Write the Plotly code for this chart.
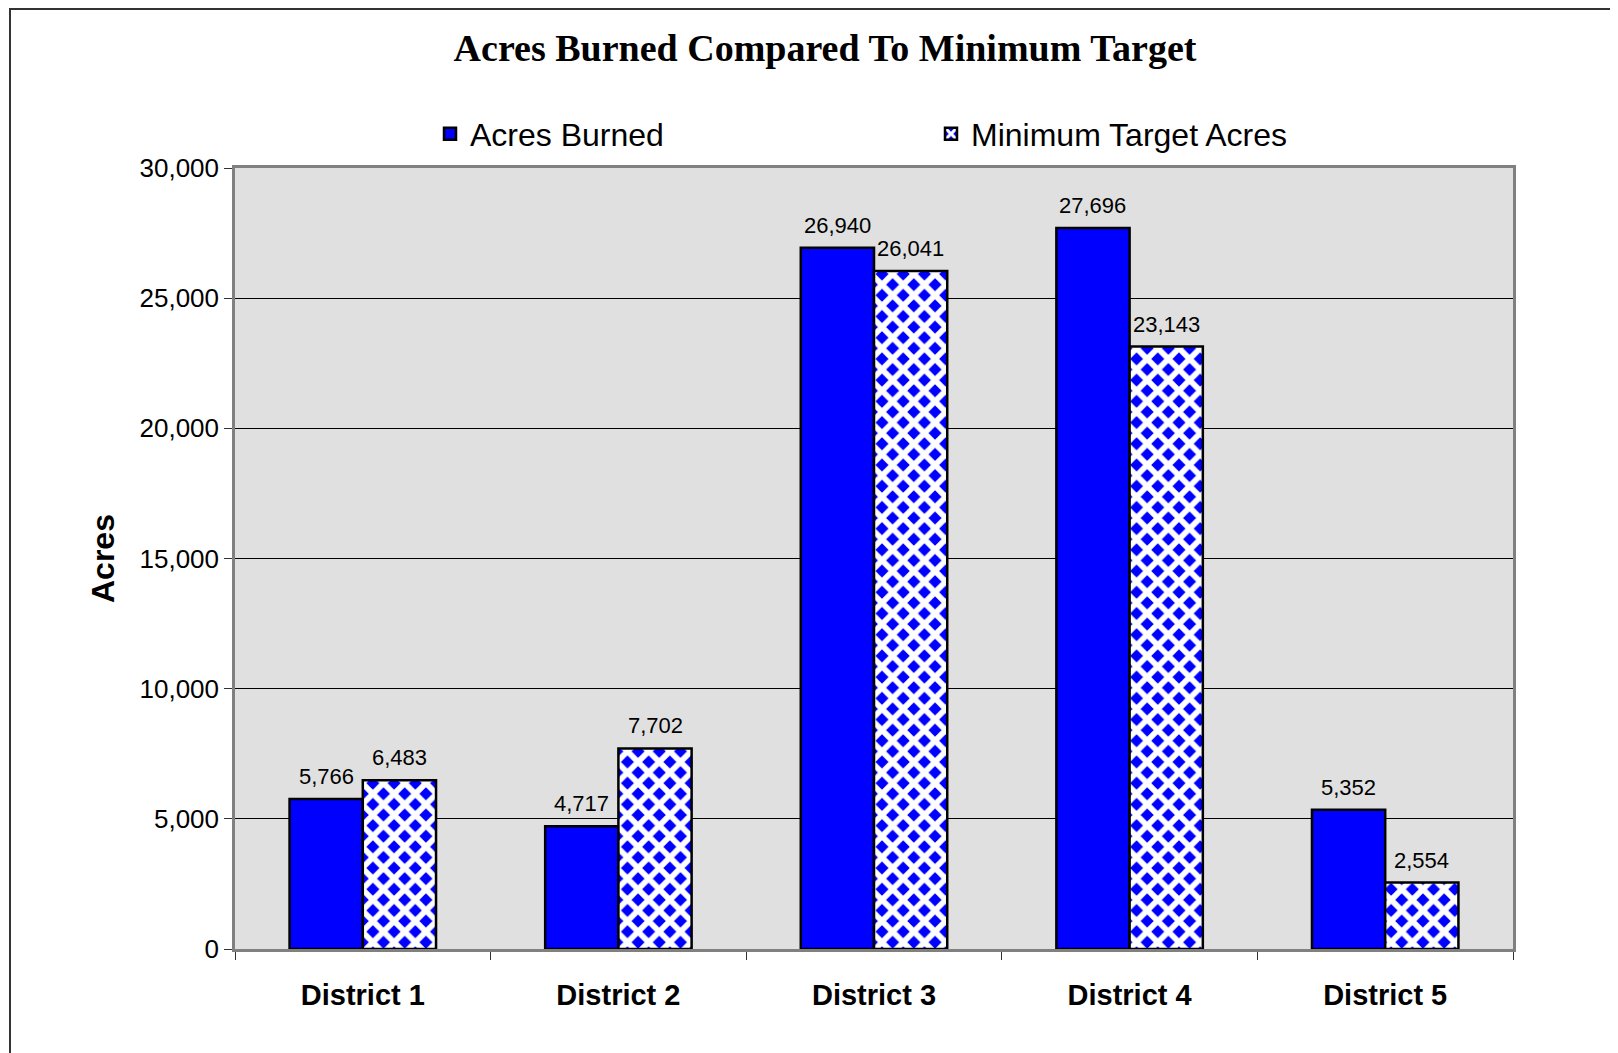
import plotly.graph_objects as go

districts = ["District 1", "District 2", "District 3", "District 4", "District 5"]
acres_burned = [5766, 4717, 26940, 27696, 5352]
min_target = [6483, 7702, 26041, 23143, 2554]

# page has an 8px body margin; figure coordinates = page coordinates - 8
W, H = 1610, 1045
L, R, T, B = 227, 105, 160, 104
pw, ph = W - L - R, H - T - B
BARGAP = 0.427

def px_x(p):
    return (p - L) / pw

def px_y(p):
    return (H - B - p) / ph

SANS = "Liberation Sans, Arial"
label_font = dict(family=SANS, size=22, color="black")

fig = go.Figure()
fig.add_trace(go.Bar(
    x=districts, y=acres_burned, name="Acres Burned",
    marker=dict(color="#0000FF", line=dict(color="black", width=2.5)),
))
fig.add_trace(go.Bar(
    x=districts, y=min_target, name="Minimum Target Acres",
    marker=dict(color="#0000FF", line=dict(color="black", width=2.5),
                pattern=dict(shape="x", bgcolor="#0000FF", fgcolor="white",
                             size=15, solidity=0.62, fillmode="replace")),
))

# data labels above each bar (offset to the bar's position within the group)
half_bar = (1 - BARGAP) * (pw / len(districts)) / 4
for series, sign in ((acres_burned, -1), (min_target, 1)):
    for d, v in zip(districts, series):
        fig.add_annotation(x=d, y=v, text=f"{v:,}", showarrow=False,
                           xanchor="center", yanchor="bottom",
                           xshift=sign * half_bar, yshift=8, font=label_font)

fig.update_layout(
    width=W, height=H,
    margin=dict(l=L, r=R, t=T, b=B),
    paper_bgcolor="white",
    plot_bgcolor="#E0E0E0",
    barmode="group",
    bargap=BARGAP,
    bargroupgap=0,
    title=dict(text="<b>Acres Burned Compared To Minimum Target</b>",
               font=dict(family="Liberation Serif, Times New Roman", size=38, color="black"),
               xref="container", x=(825 - 8) / W, xanchor="center",
               yref="container", y=1 - 40 / H, yanchor="middle"),
    legend=dict(orientation="h", x=px_x(422), y=px_y(126), xanchor="left", yanchor="middle",
                font=dict(family=SANS, size=32, color="black"),
                entrywidth=456, entrywidthmode="pixels", itemwidth=30,
                bgcolor="rgba(0,0,0,0)"),
    font=dict(family=SANS, color="black"),
    xaxis=dict(
        showline=True, linecolor="#808080", linewidth=2.5, mirror=True,
        ticks="outside", tickson="boundaries", ticklen=8, tickcolor="#333", tickwidth=1,
        tickfont=dict(family=SANS, size=29, color="black"),
        ticklabelstandoff=18,
        showgrid=False,
    ),
    yaxis=dict(
        range=[0, 30000], dtick=5000, tickformat=",",
        showline=True, linecolor="#808080", linewidth=2.5, mirror=True,
        ticks="outside", ticklen=8, tickcolor="#333", tickwidth=1,
        tickfont=dict(family=SANS, size=26, color="black"),
        showgrid=True, gridcolor="black", gridwidth=1, zeroline=False,
        title=dict(text="<b>Acres</b>", font=dict(family=SANS, size=32, color="black"),
                   standoff=16),
    ),
)

fig.update_xaxes(tickprefix="<b>", ticksuffix="</b>")

fig.add_shape(type="rect", xref="paper", yref="paper",
              x0=px_x(2), x1=px_x(1640), y0=px_y(1070), y1=px_y(1),
              line=dict(color="#333", width=2), fillcolor="rgba(0,0,0,0)", layer="above")

fig.write_html("out.html")
